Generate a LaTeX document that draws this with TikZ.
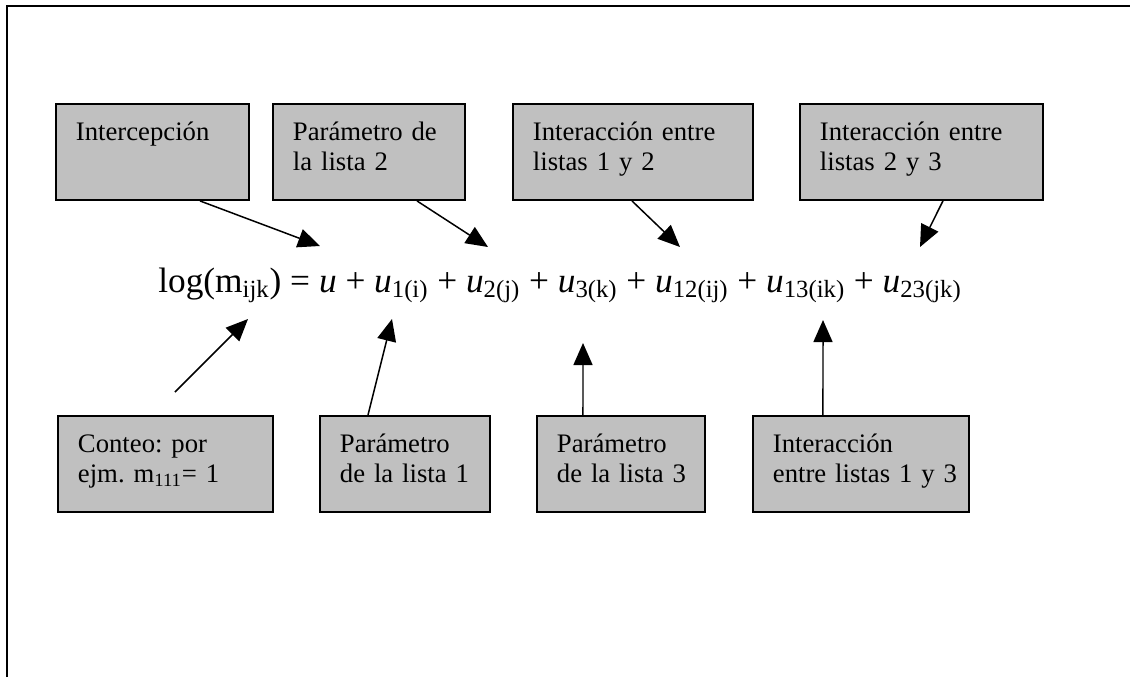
\documentclass[tikz,border=0pt]{standalone}
\usepackage{fontspec}
\setmainfont{Liberation Serif}
\usetikzlibrary{arrows.meta,positioning}
\definecolor{boxgray}{RGB}{192,192,192}
\frenchspacing

\tikzset{
  termbox/.style={draw=black, fill=boxgray, line width=1.1pt, anchor=north west,
    align=left, inner xsep=0.4cm, inner ysep=0pt,
    text height=0.74cm, text depth=1.18cm,
    font=\fontsize{15.2pt}{17pt}\selectfont},
  pointer/.style={line width=0.85pt, -{Triangle[length=0.44cm,width=0.38cm]}}
}

\begin{document}
\begin{tikzpicture}[x=0.02cm,y=-0.02cm]%[auto]
\useasboundingbox (0,0) rectangle (1130,677);

\draw [line width=1.1pt](7,677) -- (7,6) -- (1130,6);

% upper boxes
\node [termbox, text width=3.06cm] (intercep) at (55,103) {Intercepción};
\node [termbox, text width=3.04cm] (lista2) at (272,103) {\mbox{Parámetro de}\\la lista 2};
\node [termbox, text width=4.0cm] (inter12) at (512,103) {\mbox{Interacción entre}\\listas 1 y 2};
\node [termbox, text width=4.06cm] (inter23) at (799,103) {\mbox{Interacción entre}\\listas 2 y 3};

% the model
\node [anchor=base west, inner sep=0pt, font=\fontsize{20.1pt}{24pt}\selectfont] (model) at (158,292)
{log(m\textsubscript{ijk}) = \textit{u} + \textit{u}\textsubscript{1(i)} + \textit{u}\textsubscript{2(j)} + \textit{u}\textsubscript{3(k)} + \textit{u}\textsubscript{12(ij)} + \textit{u}\textsubscript{13(ik)} + \textit{u}\textsubscript{23(jk)}};

% lower boxes
\node [termbox, text width=3.5cm] (conteo) at (57,415) {Conteo: por\\\mbox{ejm. m\textsubscript{111}= 1}};
\node [termbox, text width=2.6cm] (lista1) at (319,415) {Parámetro\\\mbox{de la lista 1}};
\node [termbox, text width=2.56cm] (lista3) at (536,415) {Parámetro\\\mbox{de la lista 3}};
\node [termbox, text width=3.52cm] (inter13) at (752,415) {Interacción\\\mbox{entre listas 1 y 3}};

% arrow tips
\coordinate (tipA) at (320,246);
\coordinate (tipB) at (488,247);
\coordinate (tipC) at (680,247);
\coordinate (tipD) at (920,247);
\coordinate (tipE) at (248,319);
\coordinate (tailE) at (175,392);
\coordinate (tipF) at (392,319);
\coordinate (tipG) at (583,343);
\coordinate (tipH) at (823,320);

\draw [pointer] ([xshift=2.9cm]intercep.south west) -- (tipA);
\draw [pointer] ([xshift=2.9cm]lista2.south west) -- (tipB);
\draw [pointer] ([xshift=2.4cm]inter12.south west) -- (tipC);
\draw [pointer] ([xshift=2.88cm]inter23.south west) -- (tipD);

\draw [pointer] (tailE) -- (tipE);
\draw [pointer] ([xshift=0.98cm]lista1.north west) -- (tipF);
\draw [pointer] ([xshift=0.94cm]lista3.north west) -- (tipG);
\draw [pointer] ([xshift=1.42cm]inter13.north west) -- (tipH);
\end{tikzpicture}
\end{document}
